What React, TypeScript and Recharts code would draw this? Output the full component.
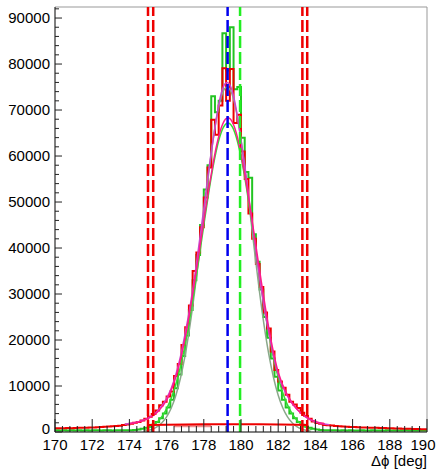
import React from 'react';
import { ComposedChart, Line, XAxis, YAxis, ReferenceLine } from 'recharts';

// ---- data ----
const BIN_START = 170;
const BIN_WIDTH = 0.2;

const redHist = [
  800, 790, 830, 850, 840, 880, 900, 930, 920, 960, 1000, 1030, 1080, 1120, 1180, 1230, 1300, 1380, 1500, 1650,
  1800, 2000, 2200, 2500, 2900, 3300, 3900, 4700, 5800, 6600, 7700, 8800, 12200, 14800, 18900, 22800, 27500, 35000, 39000, 44500,
  51000, 57500, 67900, 64600, 71000, 79100, 72000, 78900, 67200, 69000, 61000, 55000, 47500, 42000, 36500, 31500, 26000, 22500, 17500, 13500,
  11000, 9600, 8100, 6600, 6000, 5200, 4200, 3500, 2900, 2300, 1950, 1800, 1500, 1450, 1400, 1300, 1250, 1200, 1150, 1100,
  1080, 1050, 1000, 980, 950, 920, 900, 880, 860, 840, 800, 780, 760, 720, 700, 680, 660, 640, 620, 600,
];

const greenHist = [
  360, 350, 370, 340, 360, 350, 380, 350, 360, 340, 370, 360, 350, 380, 360, 350, 370, 360, 380, 390,
  400, 450, 550, 700, 900, 1200, 1600, 2200, 3000, 4000, 5300, 7000, 9500, 12500, 16500, 21000, 26500, 33000, 38500, 45000,
  52700, 58000, 73000, 69500, 72000, 86700, 78600, 88000, 74500, 75000, 64000, 56500, 55300, 43000, 37000, 31000, 25000, 20500, 16000, 12000,
  9000, 7000, 5300, 4000, 3000, 2200, 1600, 1200, 900, 700, 550, 450, 400, 380, 370, 360, 350, 360, 350, 370,
  350, 340, 360, 350, 340, 360, 350, 340, 350, 360, 340, 350, 340, 350, 360, 340, 350, 340, 350, 340,
];

const fitAX = [173.75, 174.25, 174.5, 174.75, 175, 175.25, 175.5, 175.75, 176, 176.25, 176.5, 176.75, 177, 177.25, 177.5, 177.75, 178, 178.25, 178.5, 178.75, 179, 179.25, 179.5, 179.75, 180, 180.25, 180.5, 180.75, 181, 181.25, 181.5, 181.75, 182, 182.25, 182.5, 182.75, 183, 183.25, 183.5, 183.75, 184, 184.25, 184.75];
const fitAY = [1700, 2000, 2250, 2600, 3000, 3600, 4500, 5700, 7300, 9500, 12500, 16500, 21500, 27000, 33500, 41000, 48500, 56500, 63500, 70000, 74500, 76000, 74500, 70000, 63500, 56500, 48500, 41000, 33500, 27000, 21500, 16500, 12500, 9800, 7800, 6200, 5000, 4000, 3200, 2600, 2200, 1900, 1600];

const fitBX = [174, 174.5, 175, 175.5, 176, 176.5, 177, 177.5, 177.8, 178.1, 178.4, 178.7, 179.0, 179.3, 179.6, 179.9, 180.2, 180.5, 180.8, 181.1, 181.5, 182, 182.5, 183, 183.5, 184, 184.5];
const fitBY = [1800, 2200, 2900, 4300, 6900, 12000, 20500, 32500, 40500, 48500, 56000, 62500, 66800, 68300, 66800, 62500, 56000, 48500, 40500, 32500, 22500, 13000, 8000, 5000, 3300, 2300, 1800];

const fitC1X = [174.75, 175, 175.25, 175.5, 175.75, 176, 176.25, 176.5, 176.75, 177, 177.25, 177.5, 177.75, 178, 178.25, 178.5, 178.75, 179, 179.25, 179.5, 179.75, 180, 180.25, 180.5, 180.75, 181, 181.25, 181.5, 181.75, 182, 182.25, 182.5, 182.75, 183, 183.25, 183.5, 183.75];
const fitC1Y = [190, 360, 660, 1170, 2000, 3290, 5230, 8000, 11800, 16770, 22970, 30310, 38540, 47240, 55790, 63500, 69650, 73630, 75000, 73630, 69650, 63500, 55790, 47240, 38540, 30310, 22970, 16770, 11800, 8000, 5230, 3290, 2000, 1170, 660, 360, 190];

const fitC2X = [174.8, 175.05, 175.3, 175.55, 175.8, 176.05, 176.3, 176.55, 176.8, 177.05, 177.3, 177.55, 177.8, 178.05, 178.3, 178.55, 178.8, 179.05, 179.3, 179.55, 179.8, 180.05, 180.3, 180.55, 180.8, 181.05, 181.3, 181.55, 181.8, 182.05, 182.3, 182.55, 182.8, 183.05, 183.3, 183.55, 183.8];
const fitC2Y = [545, 915, 1500, 2370, 3650, 5450, 7900, 11130, 15200, 20160, 25960, 32440, 39350, 46340, 52980, 58790, 63320, 66210, 67200, 66210, 63320, 58790, 52980, 46340, 39350, 32440, 25960, 20160, 15200, 11130, 7900, 5450, 3650, 2370, 1500, 915, 545];

const bgX = [175, 176, 177, 178, 179, 180, 181, 182, 183, 183.6];
const bgY = [1500, 1580, 1640, 1680, 1700, 1690, 1660, 1610, 1550, 1500];

const bandX = [176.4, 178.4];
const bandY = [1350, 1350];

const redLines = [175.0, 175.28, 183.3, 183.56];
const blueLine = 179.28;
const greenLine = 179.95;

const xMajorTicks = [170, 172, 174, 176, 178, 180, 182, 184, 186, 188, 190];
const yMajorTicks = [0, 10000, 20000, 30000, 40000, 50000, 60000, 70000, 80000, 90000];
const Y_MAX = 92400;

// ---- helpers ----
const histData = (vals: number[]) => {
  const pts = vals.map((v, i) => ({ x: Math.round((BIN_START + i * BIN_WIDTH) * 10) / 10, y: v }));
  pts.push({ x: Math.round((BIN_START + vals.length * BIN_WIDTH) * 10) / 10, y: vals[vals.length - 1] });
  return pts;
};
const curve = (xs: number[], ys: number[]) => xs.map((x, i) => ({ x, y: ys[i] }));

const xTicks: number[] = [];
for (let i = 0; i <= 50; i++) xTicks.push(Math.round((170 + i * 0.4) * 10) / 10);
const yTicks: number[] = [];
for (let v = 0; v <= 92000; v += 2000) yTicks.push(v);

const FONT = 'Liberation Sans, Arial, Helvetica, sans-serif';

const XTick = (props: any) => {
  const { x, y, payload } = props;
  const v = payload.value as number;
  const major = xMajorTicks.some((m) => Math.abs(m - v) < 1e-6);
  return (
    <g>
      <line x1={x} x2={x} y1={y} y2={y - (major ? 13 : 6)} stroke="#222" strokeWidth={1} />
      {major && (
        <text x={v === 190 ? x - 4 : x} y={y + 17.5} textAnchor="middle" fontSize={15} fontFamily={FONT} fill="#000">
          {v}
        </text>
      )}
    </g>
  );
};

const YTick = (props: any) => {
  const { x, y, payload } = props;
  const v = payload.value as number;
  const major = yMajorTicks.includes(v);
  return (
    <g>
      <line x1={x} x2={x + (major ? 7 : 4)} y1={y} y2={y} stroke="#222" strokeWidth={1} />
      {major && (
        <text x={x - 5} y={v === 0 ? y - 3 : y} dy={5} textAnchor="end" fontSize={15} fontFamily={FONT} fill="#000">
          {v}
        </text>
      )}
    </g>
  );
};

export default function App() {
  return (
    <div style={{ position: 'absolute', left: 0, top: 0, width: 440, height: 469, background: '#fff' }}>
      <ComposedChart width={440} height={469} margin={{ top: 7, right: 13, bottom: 0, left: 0 }}>
        <XAxis
          type="number"
          dataKey="x"
          domain={[170, 190]}
          allowDataOverflow
          ticks={xTicks}
          interval={0}
          tick={<XTick />}
          tickLine={false}
          tickSize={0}
          tickMargin={0}
          height={37}
          axisLine={{ stroke: '#000', strokeWidth: 1 }}
        />
        <YAxis
          type="number"
          domain={[0, Y_MAX]}
          allowDataOverflow
          ticks={yTicks}
          interval={0}
          tick={<YTick />}
          tickLine={false}
          tickSize={0}
          tickMargin={0}
          width={55}
          axisLine={{ stroke: '#000', strokeWidth: 1 }}
        />
        <ReferenceLine y={Y_MAX} stroke="#999" strokeWidth={1} />
        <ReferenceLine x={190} stroke="#999" strokeWidth={1} />

        <Line data={histData(greenHist)} dataKey="y" type="stepAfter" stroke="#22c422" strokeWidth={2} dot={false} activeDot={false} isAnimationActive={false} />
        <Line data={histData(redHist)} dataKey="y" type="stepAfter" stroke="#ee0000" strokeWidth={2} dot={false} activeDot={false} isAnimationActive={false} />
        <Line data={curve(bandX, bandY)} dataKey="y" type="linear" stroke="#f09090" strokeWidth={3} dot={false} activeDot={false} isAnimationActive={false} />
        <Line data={curve(fitC1X, fitC1Y)} dataKey="y" type="monotone" stroke="#8aa88a" strokeWidth={1.5} dot={false} activeDot={false} isAnimationActive={false} />
        <Line data={curve(fitC2X, fitC2Y)} dataKey="y" type="monotone" stroke="#33dd33" strokeWidth={1.5} dot={false} activeDot={false} isAnimationActive={false} />
        <Line data={curve(fitAX, fitAY)} dataKey="y" type="monotone" stroke="#cc44cc" strokeWidth={1.5} dot={false} activeDot={false} isAnimationActive={false} />
        <Line data={curve(fitBX, fitBY)} dataKey="y" type="monotone" stroke="#ff1a8c" strokeWidth={1.5} dot={false} activeDot={false} isAnimationActive={false} />
        <Line data={curve(bgX, bgY)} dataKey="y" type="monotone" stroke="#ee0000" strokeWidth={2} dot={false} activeDot={false} isAnimationActive={false} />

        {redLines.map((v) => (
          <ReferenceLine key={v} x={v} stroke="#ee0000" strokeWidth={2.5} strokeDasharray="12 4" />
        ))}
        <ReferenceLine x={blueLine} stroke="#0000ee" strokeWidth={2.5} strokeDasharray="12 4" />
        <ReferenceLine x={greenLine} stroke="#22ee22" strokeWidth={2.5} strokeDasharray="12 4" />
      </ComposedChart>
      <div
        style={{
          position: 'absolute',
          right: 13,
          top: 453,
          fontFamily: FONT,
          fontSize: 15,
          lineHeight: '15px',
          color: '#000',
          whiteSpace: 'nowrap',
        }}
      >
        Δϕ [deg]
      </div>
    </div>
  );
}
